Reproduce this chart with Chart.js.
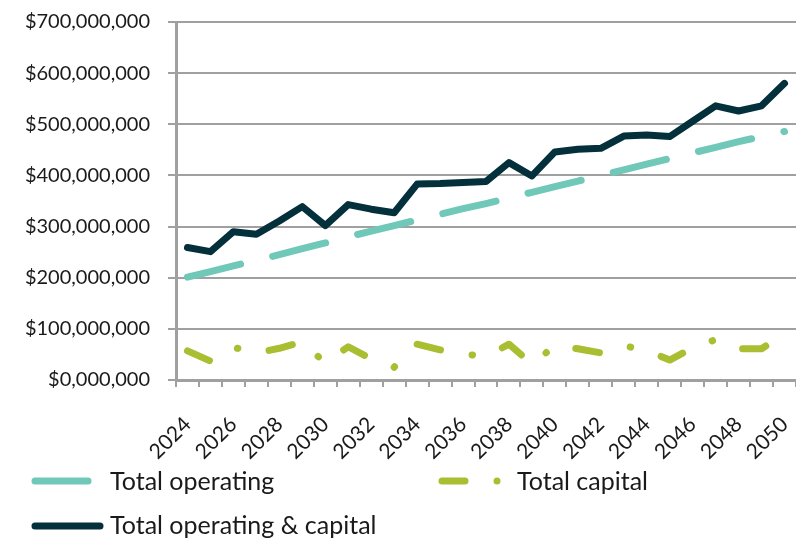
<!DOCTYPE html>
<html><head><meta charset="utf-8">
<script src="https://cdn.jsdelivr.net/npm/chart.js@4.4.1/dist/chart.umd.min.js"></script>
<style>
html,body{margin:0;padding:0;background:#fff;}
#wrap{position:relative;width:796px;height:540px;overflow:hidden;}
#c{position:absolute;left:0;top:0;}
#legend{position:absolute;left:0;top:0;}
#legend text{font-family:Lato,sans-serif;font-size:25px;fill:#1a1a1a;}
</style></head><body>
<div id="wrap">
<canvas id="c" width="796" height="540"></canvas>
<svg id="legend" width="796" height="540">
  <line x1="35" y1="481" x2="88" y2="481" stroke="#70C8B8" stroke-width="7" stroke-linecap="round"/>
  <text x="110" y="490">Total operating</text>
  <line x1="442" y1="481" x2="465" y2="481" stroke="#AABE32" stroke-width="7" stroke-linecap="round"/>
  <circle cx="497" cy="481" r="3.5" fill="#AABE32"/>
  <text x="517" y="490">Total capital</text>
  <line x1="35" y1="526" x2="100" y2="526" stroke="#03303B" stroke-width="7" stroke-linecap="round"/>
  <text x="110" y="534">Total operating &amp; capital</text>
</svg>
</div>
<script>
// Categories (years)
const years = ['2024','2025','2026','2027','2028','2029','2030','2031','2032','2033','2034','2035','2036','2037','2038','2039','2040','2041','2042','2043','2044','2045','2046','2047','2048','2049','2050'];
// Values in millions of dollars
const totalOperating = [201,212,223,234,245,257,268,280,291,302,313,324,335,345,356,367,378,389,400,411,422,433,444,455,466,476,486];
const totalCapital = [57,37,64,53,62,75,33,65,41,25,70,59,51,46,70,31,67,61,53,67,58,39,63,79,61,61,90];
const totalOperatingCapital = [259,251,290,285,311,339,302,343,334,327,383,384,386,388,425,399,446,451,453,477,479,476,506,536,526,536,580];
// Y tick labels
const yTickLabels = ['$0,000,000','$100,000,000','$200,000,000','$300,000,000','$400,000,000','$500,000,000','$600,000,000','$700,000,000'];

const GRID = '#a0a0a0';
const TEXT = '#1a1a1a';

function draw(){
  new Chart(document.getElementById('c'), {
    type: 'line',
    data: {
      labels: years,
      datasets: [
        {label:'Total operating', data: totalOperating, borderColor:'#70C8B8', borderWidth:7, borderDash:[54.7,33], borderCapStyle:'round', borderJoinStyle:'round', pointRadius:0, fill:false},
        {label:'Total capital', data: totalCapital, borderColor:'#AABE32', borderWidth:7, borderDash:[24,32,0.5,32], borderCapStyle:'round', borderJoinStyle:'round', pointRadius:0, fill:false},
        {label:'Total operating & capital', data: totalOperatingCapital, borderColor:'#03303B', borderWidth:7, borderCapStyle:'round', borderJoinStyle:'round', pointRadius:0, fill:false}
      ]
    },
    options: {
      responsive:false,
      animation:false,
      layout:{padding:{top:22,left:0,right:0,bottom:0}},
      plugins:{legend:{display:false}, tooltip:{enabled:false}},
      elements:{line:{tension:0}},
      scales:{
        x:{
          type:'category', offset:true,
          grid:{offset:true, drawOnChartArea:false, drawTicks:true, tickLength:7, color:GRID, lineWidth:2},
          border:{display:true, color:GRID, width:3},
          ticks:{autoSkip:false, minRotation:45, maxRotation:45, padding:25, color:TEXT,
                 font:{family:'Lato', size:21},
                 callback:(v,i)=> (i%2===0 ? years[i] : '')},
          afterFit:(s)=>{ s.height = 160; s.paddingLeft = 0; s.paddingRight = 0; }
        },
        y:{
          min:0, max:700,
          grid:{color:GRID, lineWidth:2, drawTicks:true, tickLength:8},
          border:{display:true, color:GRID, width:3},
          ticks:{stepSize:100, padding:18, color:TEXT, font:{family:'Lato', size:20},
                 callback:(v,i)=> yTickLabels[i]},
          afterFit:(s)=>{ s.width = 176; s.paddingTop = 0; s.paddingBottom = 0; }
        }
      }
    }
  });
}
if (document.fonts && document.fonts.load) {
  Promise.all([document.fonts.load('20px Lato'), document.fonts.load('25px Lato')]).then(draw, draw);
} else { draw(); }
</script>
</body></html>
